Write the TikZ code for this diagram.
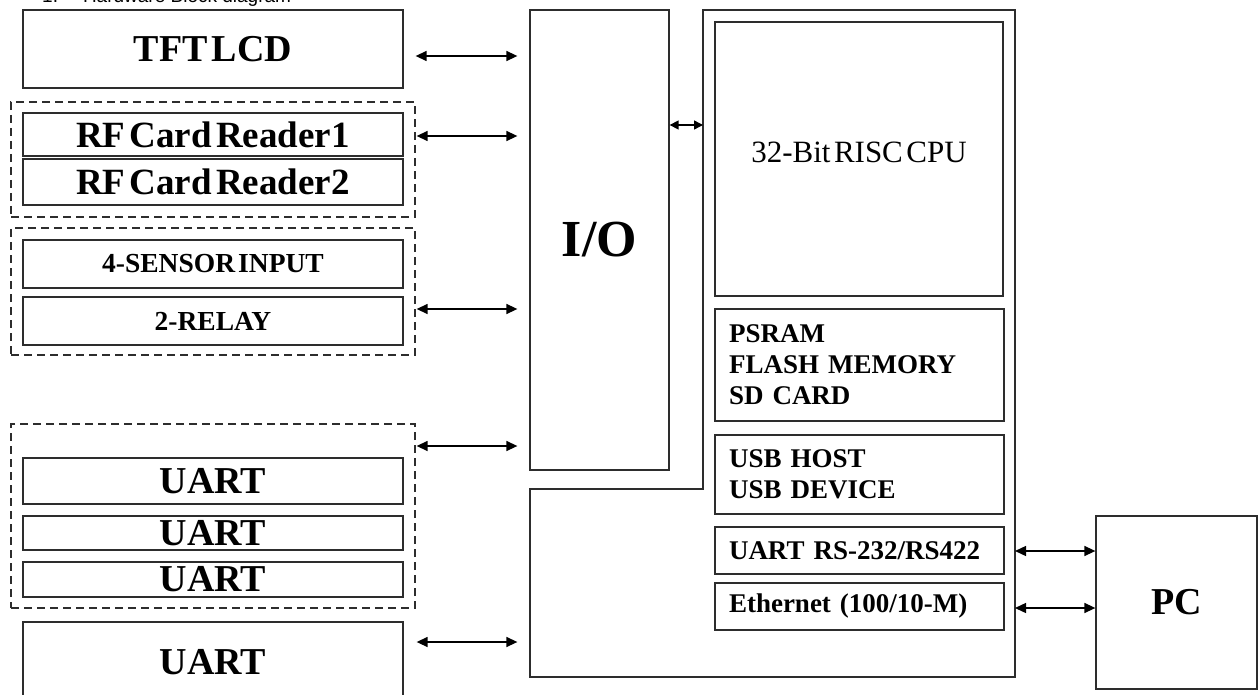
\documentclass[tikz,border=0pt]{standalone}
\usepackage{fontspec}
\setmainfont{Liberation Serif}[WordSpace=0.45]
\newfontfamily\hdrfont{Liberation Sans}
\usetikzlibrary{arrows.meta,calc}
\definecolor{linec}{RGB}{45,45,45}
\begin{document}
\begin{tikzpicture}[x=1pt,y=-1pt,
  box/.style={draw=linec, line width=1.3pt, inner sep=0pt, font=\bfseries},
  grp/.style={draw=linec, line width=1.3pt, dash pattern=on 8pt off 5pt, inner sep=0pt},
  dbl/.style={line width=1.4pt, {Triangle[length=11pt,width=10pt]}-{Triangle[length=11pt,width=10pt]}},
  dblsm/.style={line width=1.4pt, {Triangle[length=9pt,width=9pt]}-{Triangle[length=9pt,width=9pt]}},
  leftbox/.style={box, minimum width=380pt},
  colbox/.style={box, minimum width=289pt, text width=261pt, align=left, inner xsep=14pt,
    font=\fontsize{27}{31}\bfseries\selectfont},
]
\useasboundingbox (0,0) rectangle (1260,695);
\clip (0,0) rectangle (1260,695);

% header
\node[anchor=base west, inner sep=0pt, font=\hdrfont\fontsize{19}{19}\selectfont] (hdr) at (42,3)
  {1.\hspace{25pt}Hardware Block diagram};

% dashed groups
\node[grp, minimum width=404pt, minimum height=115pt] (g1) at (213,159.5) {};
\node[grp, minimum width=404pt, minimum height=127pt] (g2) at (213,291.5) {};
\node[grp, minimum width=404pt, minimum height=184pt] (g3) at (213,516) {};

% left boxes
\node[leftbox, minimum height=78pt, font=\fontsize{38}{38}\bfseries\selectfont] (tft) at (213,49) {TFT LCD};
\node[leftbox, minimum height=43pt, font=\fontsize{37}{37}\bfseries\selectfont] (rf1) at (213,134.5) {RF Card Reader1};
\node[leftbox, minimum height=46pt, font=\fontsize{37}{37}\bfseries\selectfont] (rf2) at (213,182) {RF Card Reader2};
\node[leftbox, minimum height=48pt, font=\fontsize{27.5}{27.5}\bfseries\selectfont] (sens) at (213,264) {4-SENSOR INPUT};
\node[leftbox, minimum height=48pt, font=\fontsize{27.5}{27.5}\bfseries\selectfont] (relay) at (213,321) {2-RELAY};
\node[leftbox, minimum height=46pt, font=\fontsize{38}{38}\bfseries\selectfont] (u1) at (213,481) {UART};
\node[leftbox, minimum height=34pt, font=\fontsize{38}{38}\bfseries\selectfont] (u2) at (213,533) {UART};
\node[leftbox, minimum height=35pt, font=\fontsize{38}{38}\bfseries\selectfont] (u3) at (213,579.5) {UART};
\node[leftbox, minimum height=80pt, font=\fontsize{38}{38}\bfseries\selectfont] (u4) at (213,662) {UART};

% I/O
\node[box, minimum width=139pt, minimum height=460pt, font=\fontsize{52}{52}\bfseries\selectfont] (io) at (599.5,240) {I/O};

% main board outline
\coordinate (mbNW) at (703,10);
\coordinate (mbNE) at (1015,10);
\coordinate (mbSE) at (1015,677);
\coordinate (mbSW) at (530,677);
\coordinate (mbW) at (530,489);
\coordinate (mbN) at (703,489);
\draw[draw=linec, line width=1.3pt] (mbNW) -- (mbNE) -- (mbSE) -- (mbSW) -- (mbW) -- (mbN) -- cycle;
\coordinate (mbio) at (703,125);
\coordinate (mbpc1) at (1015,551);
\coordinate (mbpc2) at (1015,608);

% inner boxes
\node[box, minimum width=288pt, minimum height=274pt] (cpu) at (859,159) {};
\node[anchor=base, inner sep=0pt, font=\fontsize{31}{31}\selectfont] (cputxt) at (859,163) {32-Bit RISC CPU};
\node[colbox, minimum height=112pt] (mem) at (859.5,365) {PSRAM\\FLASH MEMORY\\SD CARD};
\node[colbox, minimum height=79pt] (usb) at (859.5,474.5) {USB HOST\\USB DEVICE};
\node[colbox, minimum height=47pt] (rs) at (859.5,550.5) {UART RS-232/RS422};
\node[colbox, minimum height=47pt] (eth) at (859.5,606.5) {Ethernet (100/10-M)};

% PC
\node[box, minimum width=161pt, minimum height=173pt, font=\fontsize{38}{38}\bfseries\selectfont] (pc) at (1176.5,602.5) {PC};

% connectors
\draw[dbl] ($(tft.east)+(12,7)$) -- ($(io.west |- tft.east)+(-12,7)$);
\draw[dbl] ($(g1.east)+(1,-23.5)$) -- ($(io.west |- g1.east)+(-12,-23.5)$);
\draw[dbl] ($(g2.east)+(1,17.5)$) -- ($(io.west |- g2.east)+(-12,17.5)$);
\draw[dbl] ($(g3.east)+(1,-70)$) -- ($(io.west |- g3.east)+(-12,-70)$);
\draw[dbl] ($(u4.east)+(13,-20)$) -- ($(io.west |- u4.east)+(-12,-20)$);
\draw[dblsm] (io.east |- mbio) -- (mbio);
\draw[dbl] (mbpc1) -- (pc.west |- mbpc1);
\draw[dbl] (mbpc2) -- (pc.west |- mbpc2);
\end{tikzpicture}
\end{document}
